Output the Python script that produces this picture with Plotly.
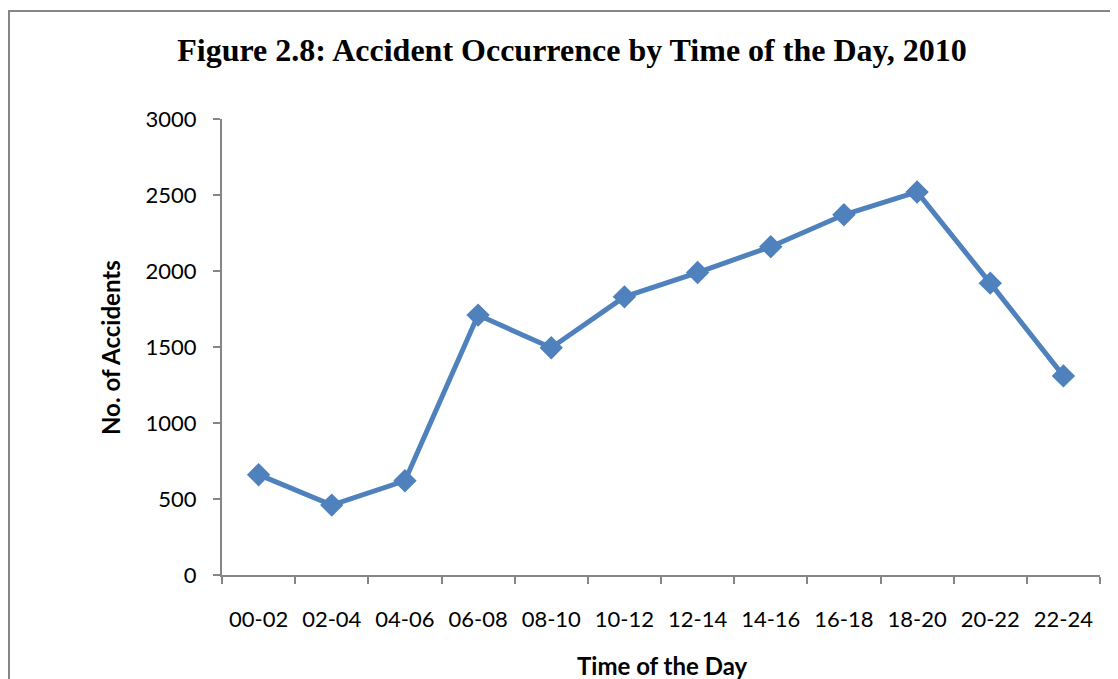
import plotly.graph_objects as go

categories = ["00-02", "02-04", "04-06", "06-08", "08-10", "10-12",
              "12-14", "14-16", "16-18", "18-20", "20-22", "22-24"]
accidents = [660, 460, 620, 1710, 1495, 1830, 1990, 2160, 2370, 2520, 1920, 1310]
y_ticks = [0, 500, 1000, 1500, 2000, 2500, 3000]

# page has an 8px body margin; figure coords = page coords - 8
W, H = 1110, 671
L, R, T, B = 214, 18, 111, 104
PW, PH = W - L - R, H - T - B

def px(xf):
    return (xf - L) / PW

def py(yf):
    return (H - B - yf) / PH

fig = go.Figure()
fig.add_trace(go.Scatter(
    x=categories, y=accidents, mode="lines+markers",
    line=dict(color="#4F81BD", width=5),
    marker=dict(symbol="diamond", size=18, color="#4F81BD"),
    showlegend=False, cliponaxis=False,
))

sans = "Lato, Carlito, sans-serif"
axis_font = dict(family=sans, size=22, color="#000000")

fig.update_layout(
    width=W, height=H,
    margin=dict(l=L, r=R, t=T, b=B),
    paper_bgcolor="white", plot_bgcolor="white",
    title=dict(text="<b>Figure 2.8: Accident Occurrence by Time of the Day, 2010</b>",
               font=dict(family="Liberation Serif, Times New Roman, serif", size=32, color="#000000"),
               x=564 / W, xanchor="center", y=1 - 42 / H, yanchor="middle"),
    xaxis=dict(
        type="category", range=[-0.5, len(categories) - 0.5],
        showline=True, linecolor="#868686", linewidth=2,
        ticks="outside", tickson="boundaries", ticklen=7, tickwidth=2, tickcolor="#868686",
        showgrid=False, zeroline=False, tickfont=axis_font, ticklabelstandoff=24,
    ),
    yaxis=dict(
        range=[0, 3000], tickvals=y_ticks, showline=True, linecolor="#868686", linewidth=2,
        ticks="outside", ticklen=7, tickwidth=2, tickcolor="#868686",
        showgrid=False, zeroline=False, tickfont=axis_font, ticklabelstandoff=12,
    ),
    annotations=[
        dict(text="<b>Time of the Day</b>", xref="paper", yref="paper",
             x=px(654), y=py(657), xanchor="center", yanchor="middle", showarrow=False,
             font=dict(family=sans, size=24, color="#000000")),
        dict(text="<b>No. of Accidents</b>", xref="paper", yref="paper",
             x=px(102), y=py(339), xanchor="center", yanchor="middle", showarrow=False,
             textangle=-90, font=dict(family=sans, size=24, color="#000000")),
    ],
    shapes=[dict(type="rect", xref="paper", yref="paper",
                 x0=px(1), x1=px(1130), y0=py(700), y1=py(3),
                 line=dict(color="#868686", width=2), layer="below")],
)

fig.write_html("out.html")
